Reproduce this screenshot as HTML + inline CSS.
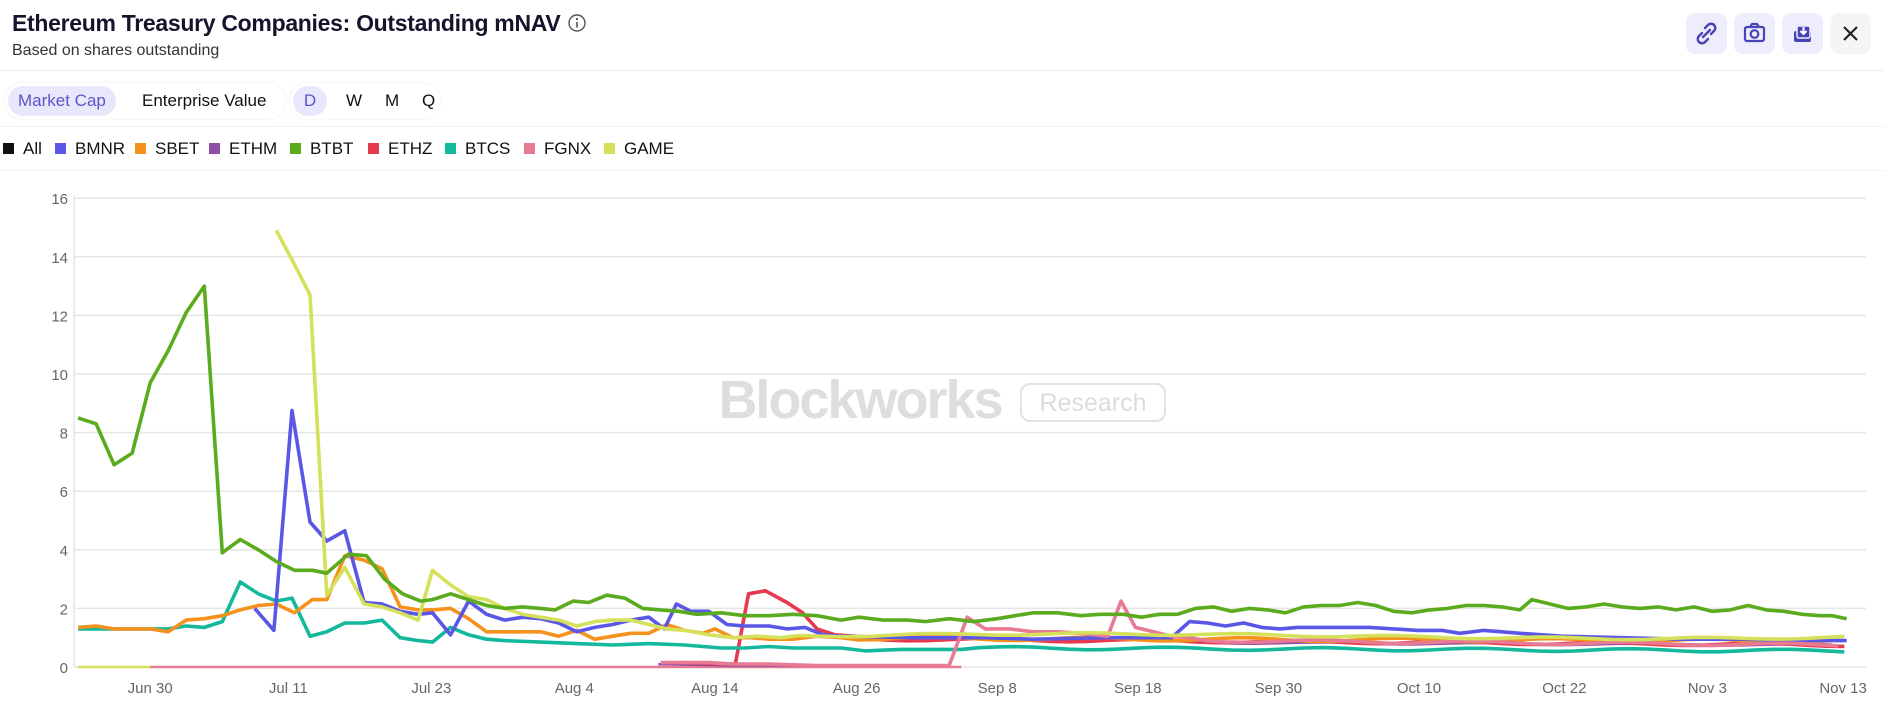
<!DOCTYPE html>
<html><head><meta charset="utf-8">
<style>
*{margin:0;padding:0;box-sizing:border-box}
body{width:1884px;height:711px;background:#fff;font-family:"Liberation Sans",sans-serif;position:relative;overflow:hidden;color:#111}
.t{position:absolute;left:12px;top:10px;font-size:23px;font-weight:bold;color:#14142b;letter-spacing:-0.3px}
.s{position:absolute;left:12px;top:42px;font-size:16px;color:#333}
.hr{position:absolute;left:0;right:0;height:1px;background:#ececec}
.grp{position:absolute;top:83px;height:36px;border-radius:18px;box-shadow:0 0 3px rgba(0,0,0,.08);background:#fff}
.pill{position:absolute;top:3px;height:30px;line-height:30px;font-size:17px;border-radius:15px;padding:0 10px;color:#111}
.on{background:#e8e7fb;color:#5b56c9}
.ib{position:absolute;top:13px;width:41px;height:41px;border-radius:9px;background:#eeedfb}
.leg{position:absolute;top:139px;font-size:17px;color:#111}
.sq{display:inline-block;width:11px;height:11px;margin-right:9px;vertical-align:0px}
</style></head><body>
<div class="t">Ethereum Treasury Companies: Outstanding mNAV <svg width="20" height="20" style="vertical-align:-2px" viewBox="0 0 20 20"><circle cx="10" cy="10" r="8" fill="none" stroke="#555" stroke-width="1.4"/><line x1="10" y1="9" x2="10" y2="14.5" stroke="#555" stroke-width="1.6"/><circle cx="10" cy="6" r="1.1" fill="#555"/></svg></div>
<div class="s">Based on shares outstanding</div>
<div class="hr" style="top:70px"></div>
<div class="grp" style="left:5px;width:280px"><div class="pill on" style="left:3px">Market Cap</div><div class="pill" style="left:127px">Enterprise Value</div></div>
<div class="grp" style="left:290px;width:150px"><div class="pill on" style="left:3px;width:34px;text-align:center;padding:0">D</div><div class="pill" style="left:46px">W</div><div class="pill" style="left:85px">M</div><div class="pill" style="left:122px">Q</div></div>
<div class="ib" style="left:1686px"><svg width="41" height="41" viewBox="0 0 41 41"><g fill="none" stroke="#4a43b8" stroke-width="2.4" stroke-linecap="round"><path d="M19 15l3-3a4 4 0 0 1 6 6l-3 3"/><path d="M22 26l-3 3a4 4 0 0 1-6-6l3-3"/><line x1="17" y1="24" x2="24" y2="17"/></g></svg></div>
<div class="ib" style="left:1734px"><svg width="41" height="41" viewBox="0 0 41 41"><g fill="none" stroke="#4a43b8" stroke-width="2.2"><rect x="11" y="14" width="19" height="14" rx="2"/><circle cx="20.5" cy="21" r="3.8"/><path d="M16 14l2-3h5l2 3"/></g></svg></div>
<div class="ib" style="left:1782px"><svg width="41" height="41" viewBox="0 0 41 41"><rect x="12" y="18" width="17" height="11" rx="2" fill="#4a43b8"/><rect x="15" y="13" width="13" height="12" rx="2" fill="#4a43b8" stroke="#eeedfb" stroke-width="1.5"/><path d="M21.5 14v7m-3-3l3 3 3-3" stroke="#fff" stroke-width="2" fill="none"/></svg></div>
<div class="ib" style="left:1830px;background:#f5f5f7"><svg width="41" height="41" viewBox="0 0 41 41"><path d="M14 14l13 13M27 14l-13 13" stroke="#222" stroke-width="2.2"/></svg></div>
<div class="hr" style="top:126px;background:#f2f2f2"></div>
<div class="leg" style="left:3px"><span class="sq" style="background:#111"></span>All</div>
<div class="leg" style="left:55px"><span class="sq" style="background:#5b57e6"></span>BMNR</div>
<div class="leg" style="left:135px"><span class="sq" style="background:#f5921e"></span>SBET</div>
<div class="leg" style="left:209px"><span class="sq" style="background:#8e4fa6"></span>ETHM</div>
<div class="leg" style="left:290px"><span class="sq" style="background:#5aab1e"></span>BTBT</div>
<div class="leg" style="left:368px"><span class="sq" style="background:#e63950"></span>ETHZ</div>
<div class="leg" style="left:445px"><span class="sq" style="background:#14b89c"></span>BTCS</div>
<div class="leg" style="left:524px"><span class="sq" style="background:#e87a93"></span>FGNX</div>
<div class="leg" style="left:604px"><span class="sq" style="background:#d5e15a"></span>GAME</div>
<div class="hr" style="top:170px;background:#f2f2f2"></div>
<svg id="c" width="1884" height="711" style="position:absolute;left:0;top:0" viewBox="0 0 1884 711"></svg>
<script>
var S=1.2015;function X(d){return d*S}function Y(v){return 667-v*29.3}
var svg=document.getElementById('c'),h='';
for(var i=0;i<=8;i++){var y=Y(i*2);h+='<line x1="74" x2="1866" y1="'+y+'" y2="'+y+'" stroke="#e6e6e6" stroke-width="1.5"/>';h+='<text x="68" y="'+(y+6)+'" text-anchor="end" font-size="15" fill="#666" font-family="Liberation Sans">'+(i*2)+'</text>';}
h+='<line x1="74" x2="74" y1="196" y2="667" stroke="#e6e6e6" stroke-width="1.5"/>';
var xl=[[125,'Jun 30'],[240,'Jul 11'],[359,'Jul 23'],[478,'Aug 4'],[595,'Aug 14'],[713,'Aug 26'],[830,'Sep 8'],[947,'Sep 18'],[1064,'Sep 30'],[1181,'Oct 10'],[1302,'Oct 22'],[1421,'Nov 3'],[1534,'Nov 13']];
xl.forEach(function(a){h+='<text x="'+X(a[0])+'" y="693" text-anchor="middle" font-size="15" fill="#666" font-family="Liberation Sans">'+a[1]+'</text>'});
h+='<text x="860" y="418" text-anchor="middle" font-size="54" font-weight="bold" fill="#dedede" font-family="Liberation Sans" letter-spacing="-2">Blockworks</text>';
h+='<rect x="1021" y="384" width="144" height="37" rx="9" fill="none" stroke="#e2e2e2" stroke-width="2"/><text x="1093" y="411" text-anchor="middle" font-size="25" fill="#dcdcdc" font-family="Liberation Sans">Research</text>';
function P(pts,col,w){var d='';pts.forEach(function(p,i){d+=(i?'L':'M')+X(p[0]).toFixed(1)+' '+Y(p[1]).toFixed(1)});h+='<path d="'+d+'" fill="none" stroke="'+col+'" stroke-width="'+(w||3.6)+'" stroke-linejoin="round"/>'}
function flat(a,b,v,amp,seed){var r=[];for(var x=a;x<=b;x+=15){r.push([x,v(x)+amp*Math.sin(x*0.37+seed)])}return r}
P([[65,0],[125,0]],'#d5e15a',2.5);
P([[125,0],[800,0]],'#e87a93',2.5);
P([[548,0.1],[610,0.05],[680,0.05]],'#8e4fa6',2.5);
P(flat(1000,1537,function(x){return 0.85-0.1*(x-1000)/537},0.03,1),'#8e4fa6');
P([[565,0.15],[612,0.1],[623,2.5],[637,2.6],[655,2.2],[668,1.85],[680,1.3],[695,1.1],[710,1.05]].concat(flat(725,1537,function(x){return 0.95-0.2*(x-725)/812},0.05,2)),'#e63950');
P([[65,1.3],[80,1.3],[95,1.3],[110,1.3],[125,1.3],[140,1.3],[155,1.4],[170,1.35],[185,1.55],[200,2.9],[215,2.5],[230,2.25],[243,2.35],[258,1.05],[272,1.2],[287,1.5],[303,1.5],[318,1.6],[333,1.0],[348,0.9],[360,0.85],[375,1.35],[390,1.1],[405,0.95],[420,0.9],[450,0.85],[480,0.8],[510,0.75],[540,0.8],[570,0.75],[600,0.65],[620,0.65],[640,0.7],[660,0.65],[700,0.65],[720,0.55],[750,0.6],[800,0.6]].concat(flat(815,1537,function(x){return 0.65-0.1*(x-815)/722},0.05,3)),'#14b89c');
P([[65,1.35],[80,1.4],[95,1.3],[110,1.3],[125,1.3],[140,1.2],[155,1.6],[170,1.65],[185,1.75],[200,1.95],[215,2.1],[230,2.15],[245,1.85],[260,2.3],[272,2.3],[287,3.8],[303,3.65],[318,3.35],[333,2.05],[348,1.95],[360,1.95],[375,2.0],[390,1.65],[405,1.2],[420,1.2],[435,1.2],[450,1.2],[465,1.05],[480,1.25],[495,0.95],[510,1.05],[525,1.15],[540,1.15],[555,1.45],[570,1.25],[585,1.15],[595,1.3],[610,1.0],[625,1.0],[640,0.95],[660,0.95],[680,1.05],[700,1.0]].concat(flat(715,1537,function(x){return 0.98-0.1*(x-715)/822},0.06,4)),'#f5921e');
P([[212,2],[228,1.25],[243,8.75],[258,4.95],[272,4.3],[287,4.65],[303,2.2],[318,2.15],[333,1.9],[348,1.8],[360,1.85],[375,1.1],[390,2.25],[405,1.8],[420,1.6],[435,1.7],[450,1.65],[465,1.5],[480,1.2],[495,1.35],[510,1.45],[525,1.6],[540,1.7],[553,1.3],[563,2.15],[575,1.9],[590,1.9],[605,1.45],[620,1.4],[640,1.4],[655,1.3],[670,1.35],[685,1.1],[700,1.05],[760,1.0],[820,1.0],[860,0.95],[920,1.0],[975,1.0],[990,1.55],[1005,1.5],[1020,1.4],[1035,1.5],[1050,1.35],[1065,1.3],[1080,1.35],[1140,1.35],[1160,1.3],[1180,1.25],[1200,1.25],[1215,1.15],[1235,1.25],[1250,1.2],[1265,1.15],[1300,1.05],[1350,1.0],[1400,0.95],[1450,0.95],[1500,0.9],[1537,0.9]],'#5b57e6');
P([[550,0.15],[590,0.15],[610,0.1],[640,0.1],[680,0.05],[790,0.05],[805,1.7],[820,1.3],[840,1.3],[860,1.2],[880,1.2],[900,1.15],[922,1.05],[933,2.25],[945,1.35],[960,1.2],[975,1.05],[990,1.0]].concat(flat(1005,1537,function(x){return 0.9-0.15*(x-1005)/532},0.05,5)),'#e87a93');
P([[230,14.9],[243,13.9],[258,12.7],[272,2.45],[287,3.4],[303,2.15],[318,2.05],[333,1.85],[348,1.6],[360,3.3],[375,2.8],[390,2.4],[405,2.3],[420,2.0],[435,1.8],[450,1.7],[465,1.6],[480,1.4],[495,1.55],[510,1.6],[525,1.6],[540,1.45],[555,1.3],[570,1.25],[590,1.1],[610,1.0],[630,1.05],[650,1.0]].concat(flat(665,1537,function(x){return 1.05+0.08*Math.sin((x-665)/150)},0.04,6)),'#d5e15a');
P([[65,8.5],[80,8.3],[95,6.9],[110,7.3],[125,9.7],[140,10.8],[155,12.1],[170,13],[185,3.9],[200,4.35],[215,4],[230,3.6],[245,3.3],[260,3.3],[272,3.2],[290,3.85],[305,3.8],[320,3],[335,2.5],[350,2.25],[360,2.3],[375,2.5],[390,2.3],[405,2.1],[420,2.0],[435,2.05],[450,2.0],[462,1.95],[477,2.25],[490,2.2],[505,2.45],[520,2.35],[535,2.0],[550,1.95],[565,1.9],[580,1.8],[600,1.85],[620,1.75],[640,1.75],[660,1.8],[680,1.75],[700,1.6],[715,1.7],[735,1.6],[755,1.6],[770,1.55],[790,1.65],[810,1.55],[830,1.65],[845,1.75],[860,1.85],[880,1.85],[900,1.75],[915,1.8],[935,1.8],[950,1.7],[965,1.8],[980,1.8],[995,2.0],[1010,2.05],[1025,1.9],[1040,2.0],[1055,1.95],[1070,1.85],[1085,2.05],[1100,2.1],[1115,2.1],[1130,2.2],[1145,2.1],[1160,1.9],[1175,1.85],[1190,1.95],[1205,2.0],[1220,2.1],[1235,2.1],[1250,2.05],[1265,1.95],[1275,2.3],[1290,2.15],[1305,2.0],[1320,2.05],[1335,2.15],[1350,2.05],[1365,2.0],[1380,2.05],[1395,1.95],[1410,2.05],[1425,1.9],[1440,1.95],[1455,2.1],[1470,1.95],[1485,1.9],[1500,1.8],[1515,1.75],[1525,1.75],[1537,1.65]],'#5aab1e');
svg.innerHTML=h;
</script>
</body></html>
